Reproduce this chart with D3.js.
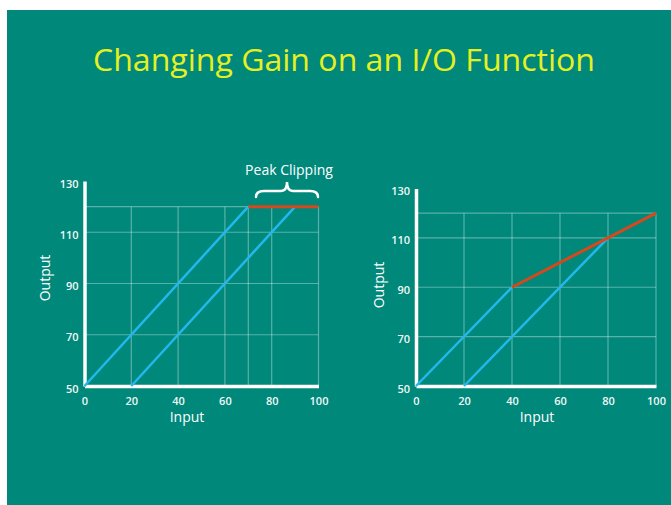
<!DOCTYPE html>
<html><head><meta charset="utf-8">
<script src="https://cdn.jsdelivr.net/npm/d3@7"></script>
<style>html,body{margin:0;padding:0;background:#fff;}svg{display:block;}</style>
</head><body>
<script>
// ---- data ----
const title = "Changing Gain on an I/O Function";
const xTicks = [0, 20, 40, 60, 80, 100];
const yTicks = [50, 70, 90, 110, 130];
const leftGridX = [20, 40, 60, 70, 80, 100];
const leftGridY = [70, 90, 110, 120];
const rightGridX = [20, 40, 60, 80, 100];
const rightGridY = [70, 90, 110, 120];
// left chart: peak clipping
const leftBlue1 = [[0, 50], [70, 120]];
const leftBlue2 = [[20, 50], [90, 120]];
const leftRed = [[70, 120], [100, 120]];
// right chart: compression
const rightBlue1 = [[0, 50], [40, 90]];
const rightBlue2 = [[20, 50], [80, 110]];
const rightRed = [[40, 90], [100, 120]];
const annotation = "Peak Clipping";

const W = 671, H = 505;
const BG = "#00887b", BLUE = "#22b8ec", RED = "#d5491c", YELLOW = "#e6f020";

const svg = d3.select("body").append("svg").attr("width", W).attr("height", H);
svg.append("rect").attr("width", W).attr("height", H).attr("fill", "#fff");
svg.append("rect").attr("x", 7).attr("y", 10).attr("width", W - 7).attr("height", H - 10).attr("fill", BG);

svg.append("text").attr("x", 344).attr("y", 71)
  .attr("text-anchor", "middle")
  .attr("font-family", "'Open Sans', sans-serif").attr("font-size", 31)
  .attr("fill", YELLOW)
  .attr("textLength", 502).attr("lengthAdjust", "spacingAndGlyphs")
  .text(title);

function chart(cfg) {
  const x = d3.scaleLinear().domain([0, 100]).range(cfg.xr);
  const y = d3.scaleLinear().domain([50, 130]).range(cfg.yr);
  const g = svg.append("g");
  // grid
  g.selectAll(".gx").data(cfg.gridX).join("line")
    .attr("x1", d => x(d)).attr("x2", d => x(d))
    .attr("y1", y(50)).attr("y2", y(120))
    .attr("stroke", "rgba(255,255,255,0.35)").attr("stroke-width", 1.2);
  g.selectAll(".gy").data(cfg.gridY).join("line")
    .attr("x1", x(0)).attr("x2", x(100))
    .attr("y1", d => y(d)).attr("y2", d => y(d))
    .attr("stroke", "rgba(255,255,255,0.35)").attr("stroke-width", 1.2);
  // axes
  const font = "'Open Sans', sans-serif";
  const ax = g.append("g").attr("transform", `translate(0,${y(50)})`)
    .call(d3.axisBottom(x).tickValues(xTicks).tickSize(0).tickPadding(11));
  const ay = g.append("g").attr("transform", `translate(${x(0)},0)`)
    .call(d3.axisLeft(y).tickValues(yTicks).tickSize(0).tickPadding(6));
  [ax, ay].forEach(a => {
    a.select(".domain").attr("stroke", "#fff").attr("stroke-width", 3.5);
    a.selectAll("text").attr("fill", "#f2f8f6").attr("font-family", font)
      .attr("font-size", 11).attr("font-weight", 600);
  });
  ay.selectAll("text").attr("dy", "0.55em");
  // lines
  const line = d3.line().x(d => x(d[0])).y(d => y(d[1]));
  cfg.blue.forEach(s => g.append("path").attr("d", line(s)).attr("fill", "none")
    .attr("stroke", BLUE).attr("stroke-width", 2.5));
  g.append("path").attr("d", line(cfg.red)).attr("fill", "none")
    .attr("stroke", RED).attr("stroke-width", 3);
  // axis titles
  g.append("text").attr("x", cfg.inputX).attr("y", 422).attr("text-anchor", "middle")
    .attr("fill", "#fff").attr("font-family", font).attr("font-size", 14).text("Input");
  g.append("text").attr("transform", `translate(${cfg.outX},${cfg.outY}) rotate(-90)`)
    .attr("text-anchor", "middle").attr("dy", "0.35em")
    .attr("fill", "#fff").attr("font-family", font).attr("font-size", 14).text("Output");
  return {x, y, g};
}

const L = chart({xr: [84.5, 318.5], yr: [386, 181], gridX: leftGridX, gridY: leftGridY,
  blue: [leftBlue1, leftBlue2], red: leftRed, inputX: 187, outX: 45, outY: 278});
chart({xr: [416, 656], yr: [386, 188.5], gridX: rightGridX, gridY: rightGridY,
  blue: [rightBlue1, rightBlue2], red: rightRed, inputX: 537, outX: 379, outY: 285});

// Peak clipping annotation
L.g.append("text").attr("x", 289).attr("y", 175).attr("text-anchor", "middle")
  .attr("fill", "#fff").attr("font-family", "'Open Sans', sans-serif").attr("font-size", 14)
  .text(annotation);
const bx0 = 256, bx1 = 318, bm = (bx0 + bx1) / 2, by = 191;
L.g.append("path")
  .attr("d", `M${bx0},${by + 6} Q${bx0},${by} ${bx0 + 8},${by} L${bm - 6},${by} Q${bm},${by} ${bm},${by - 9} Q${bm},${by} ${bm + 6},${by} L${bx1 - 8},${by} Q${bx1},${by} ${bx1},${by + 6}`)
  .attr("fill", "none").attr("stroke", "#fff").attr("stroke-width", 2.5).attr("stroke-linecap", "round");
</script>
</body></html>
